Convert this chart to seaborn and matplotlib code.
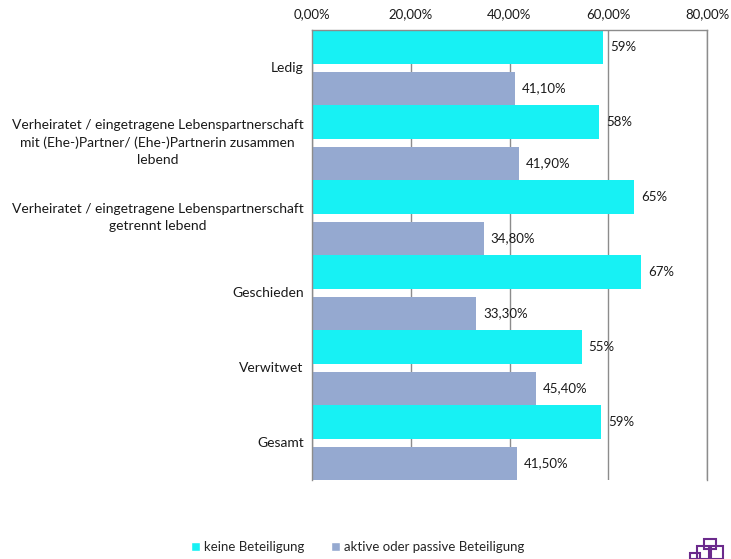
import pandas as pd
import matplotlib.pyplot as plt
from matplotlib.patches import Patch, Rectangle
import seaborn as sns

# Daten
kategorien = [
    "Ledig",
    "Verheiratet / eingetragene Lebenspartnerschaft\nmit (Ehe-)Partner/ (Ehe-)Partnerin zusammen\nlebend",
    "Verheiratet / eingetragene Lebenspartnerschaft\ngetrennt lebend",
    "Geschieden",
    "Verwitwet",
    "Gesamt",
]
keine = [58.9, 58.1, 65.2, 66.7, 54.6, 58.5]
aktiv = [41.1, 41.9, 34.8, 33.3, 45.4, 41.5]
keine_labels = ["59%", "58%", "65%", "67%", "55%", "59%"]
aktiv_labels = ["41,10%", "41,90%", "34,80%", "33,30%", "45,40%", "41,50%"]
gruppen = ["keine Beteiligung", "aktive oder passive Beteiligung"]
x_ticks = [0, 20, 40, 60, 80]
x_tick_labels = ["0,00%", "20,00%", "40,00%", "60,00%", "80,00%"]

farben = ["#17F1F4", "#95A9D0"]

df = pd.DataFrame({
    "Kategorie": kategorien * 2,
    "Wert": keine + aktiv,
    "Gruppe": [gruppen[0]] * len(kategorien) + [gruppen[1]] * len(kategorien),
})

sns.set_style("white")
plt.rcParams['font.family'] = ['Lato', 'DejaVu Sans']

fig = plt.figure(figsize=(7.31, 5.59), dpi=100)
ax = fig.add_axes([0.4268, 0.1408, 0.5404, 0.805])

sns.barplot(data=df, y="Kategorie", x="Wert", hue="Gruppe", palette=farben,
            saturation=1, width=1, gap=0.11, errorbar=None, linewidth=0,
            ax=ax, legend=False)

# Balken wie im Original an den Kategorierand schieben
for p in ax.containers[0]:
    p.set_y(p.get_y() - 0.0275)
for p in ax.containers[1]:
    p.set_y(p.get_y() + 0.0275)

# Wertbeschriftungen
ax.bar_label(ax.containers[0], labels=keine_labels, padding=5, fontsize=9.5, color="#1a1a1a")
ax.bar_label(ax.containers[1], labels=aktiv_labels, padding=5, fontsize=9.5, color="#1a1a1a")

# Achsen
ax.set_xlim(0, 80)
ax.set_xticks(x_ticks)
ax.set_xticklabels(x_tick_labels, fontsize=9.5, color="#1a1a1a")
ax.xaxis.tick_top()
ax.tick_params(axis="x", length=0, pad=7)
ax.tick_params(axis="y", length=0, pad=6)
ax.set_yticks(range(len(kategorien)))
ax.set_yticklabels(kategorien, fontsize=10, color="#1a1a1a", multialignment="center",
                   va="center", linespacing=1.5)
ax.set_xlabel("")
ax.set_ylabel("")

ax.xaxis.grid(True, color="#8c8c8c", linewidth=1)
ax.set_axisbelow(True)
for s in ["top", "right", "left"]:
    ax.spines[s].set_color("#8c8c8c")
    ax.spines[s].set_linewidth(1)
ax.spines["bottom"].set_visible(False)

# Legende
handles = [Patch(facecolor=farben[0]), Patch(facecolor=farben[1])]
fig.legend(handles, gruppen, loc="center", bbox_to_anchor=(358 / 731, 1 - 547 / 559),
           ncol=2, frameon=False, fontsize=9.5, handlelength=0.7, handleheight=0.7,
           handletextpad=0.3, columnspacing=2.0)

# Logo-Andeutung unten rechts
logo = [(704, 539, 12, 10), (697, 546, 12, 13), (711, 546, 12, 13), (690, 553, 10, 6)]
for lx, ly, lw, lh in logo:
    fig.add_artist(Rectangle((lx / 731, 1 - (ly + lh) / 559), lw / 731, lh / 559,
                             transform=fig.transFigure, fill=False,
                             edgecolor="#6b2a8c", linewidth=1.5))

plt.savefig("out.png", dpi=100)
